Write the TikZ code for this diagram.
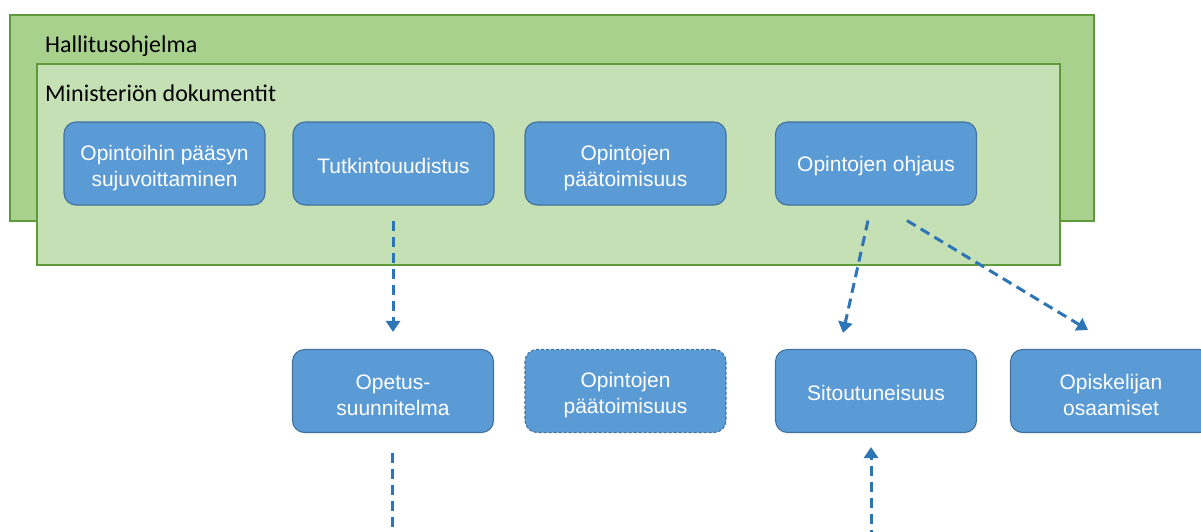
\documentclass[tikz,border=0pt]{standalone}
\usepackage{fontspec}
\setmainfont{Liberation Sans}
\newfontfamily\calib{Carlito}
\usetikzlibrary{arrows.meta,calc}
\definecolor{outergreen}{HTML}{A9D18E}
\definecolor{innergreen}{HTML}{C5E0B4}
\definecolor{greenline}{HTML}{5E9A3A}
\definecolor{boxblue}{HTML}{5B9BD5}
\definecolor{boxline}{HTML}{41719C}
\definecolor{arrowblue}{HTML}{2E75B6}
\tikzset{
  frame/.style={draw=greenline, line width=1.2pt},
  bluebox/.style={rectangle, rounded corners=12pt, fill=boxblue, draw=boxline, line width=1.1pt,
    minimum width=201pt, minimum height=83pt, align=center, text=white,
    font=\fontsize{21}{26}\selectfont, inner sep=0pt},
  dashbox/.style={bluebox, dash pattern=on 3pt off 2pt},
  conn/.style={draw=arrowblue, line width=3pt, dash pattern=on 10pt off 6pt,
    -{Triangle[width=14pt,length=11pt]}},
  connplain/.style={draw=arrowblue, line width=3pt, dash pattern=on 10pt off 6pt},
  framelabel/.style={anchor=base west, inner sep=0pt, font=\calib\fontsize{24}{28}\selectfont}
}
\newcommand\twol{\rule{0pt}{24pt}}
\newcommand\onel{\rule{0pt}{19.5pt}}
\begin{document}
\begin{tikzpicture}[x=1pt,y=-1pt]
\useasboundingbox (0,0) rectangle (1201,531);
\clip (0,0) rectangle (1201,531);
\fill[white] (0,0) rectangle (1201,531);
% frames
\draw[frame, fill=outergreen] (10,15) rectangle (1094,221);
\node[framelabel] (hall) at (45,52) {Hallitusohjelma};
\draw[frame, fill=innergreen] (37,64) rectangle (1060,265);
\node[framelabel] (mini) at (45,101) {Ministeriön dokumentit};
% top row
\node[bluebox] (opp) at (164.5,163.5) {\twol Opintoihin pääsyn\\sujuvoittaminen};
\node[bluebox] (tut) at (393.5,163.5) {\onel Tutkintouudistus};
\node[bluebox] (pta) at (625.5,163.5) {\twol Opintojen\\päätoimisuus};
\node[bluebox] (ohj) at (876,163.5) {\onel Opintojen ohjaus};
% bottom row
\node[bluebox] (ops) at (393,391) {\twol Opetus-\\suunnitelma};
\node[dashbox] (ptb) at (625.5,391) {\twol Opintojen\\päätoimisuus};
\node[bluebox] (sit) at (876,391) {\onel Sitoutuneisuus};
\node[bluebox] (osa) at (1111,391) {\twol Opiskelijan\\osaamiset};
% connectors
\coordinate (opsend) at (392,540);
\coordinate (sitstart) at (871,540);
\draw[conn] ($(tut.south)+(-0.5,15)$) -- ($(ops.north)+(0,-17)$);
\draw[conn] ($(ohj.south)+(-8,15)$) -- ($(sit.north)+(-33,-16)$);
\draw[conn] ($(ohj.south)+(31,15)$) -- ($(osa.north)+(-23,-19)$);
\draw[connplain] ($(ops.south)+(-1,20)$) -- (opsend);
\draw[conn] (sitstart) -- ($(sit.south)+(-5,14)$);
\end{tikzpicture}
\end{document}
